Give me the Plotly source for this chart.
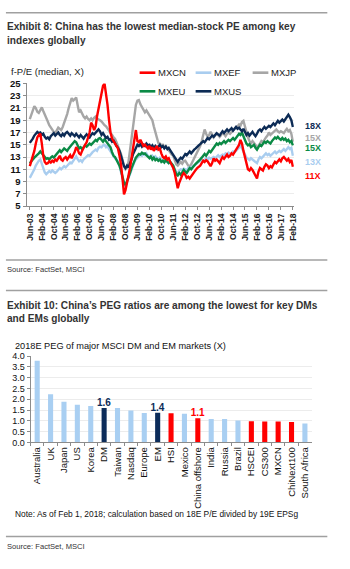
import plotly.graph_objects as go
import pandas as pd

W, H = 350, 569

# ---------------- Exhibit 8 data (monthly, from Jun-03) ----------------
start_month = "2003-06-01"
mxcn = [11.5, 12.2, 13.0, 14.0, 15.2, 16.2, 16.6,
        16.8, 15.2, 13.2, 12.2, 11.9, 12.0, 12.3, 12.1, 12.4, 12.2, 12.6, 12.4,
        12.8, 13.2, 12.6, 12.4, 12.8, 13.0, 12.6, 12.9, 13.3, 12.8, 13.2, 13.8,
        14.6, 14.2, 13.6, 13.4, 14.0, 14.6, 15.0, 15.4, 16.4, 17.0, 18.6, 18.2,
        17.4, 18.0, 19.6, 20.8, 22.0, 23.4, 24.6, 25.0, 23.5, 21.5, 19.0, 17.0,
        16.0, 15.6, 15.2, 14.8, 14.4, 13.2, 11.8, 9.5, 6.9, 7.6, 8.6, 10.0,
        11.2, 12.8, 14.2, 16.0, 17.4, 15.6, 15.4, 15.8, 15.2, 14.8, 15.0, 14.6,
        14.4, 14.8, 14.2, 14.6, 14.0, 14.4, 14.8, 14.2, 14.4, 13.6, 13.0, 12.8,
        13.1, 12.6, 12.8, 12.2, 11.8, 11.2, 10.4, 9.4, 7.9, 8.8, 9.6, 10.0,
        10.4, 10.1, 9.6, 9.8, 9.5, 9.9, 10.3, 10.7, 10.9, 11.2, 11.4, 11.6,
        12.0, 12.4, 12.2, 12.5, 12.3, 11.8, 11.5, 12.0, 12.8, 12.4, 12.6, 12.3,
        12.0, 12.6, 13.0, 12.7, 13.1, 13.4, 13.0, 13.2, 13.6, 13.4, 13.8, 14.2,
        14.4, 15.0, 15.8, 15.2, 14.0, 12.8, 11.6, 11.0, 10.8, 11.2, 10.9, 10.4,
        9.8, 9.5, 10.6, 11.2, 11.0, 10.8, 11.4, 11.8, 11.6, 11.2, 11.5, 11.3,
        11.8, 12.2, 12.0, 12.4, 12.6, 12.3, 12.8, 13.0, 12.6, 12.4, 12.7, 12.2,
        12.5, 11.4]
mxef = [9.6, 10.0, 10.5, 11.0, 11.6, 12.1, 12.4,
        12.6, 11.8, 11.0, 10.5, 10.2, 10.4, 10.7, 10.5, 10.8, 10.6, 10.4, 10.6,
        10.9, 11.2, 11.0, 11.3, 11.5, 11.3, 11.6, 11.8, 12.1, 12.0, 12.4, 12.8,
        13.1, 12.6, 12.3, 12.5, 12.2, 12.6, 12.8, 13.0, 13.3, 13.2, 13.6, 13.8,
        14.0, 14.2, 14.0, 14.5, 14.7, 14.6, 14.9, 15.0, 14.6, 14.8, 14.3, 13.9,
        13.5, 13.2, 12.8, 12.6, 12.3, 11.6, 10.6, 9.6, 8.4, 8.2, 8.9, 9.6,
        10.4, 11.0, 11.5, 12.2, 12.6, 12.9, 13.2, 13.4, 13.2, 13.5, 13.3, 13.6,
        13.2, 13.1, 12.9, 13.2, 12.8, 13.1, 12.8, 12.6, 12.9, 12.6, 12.3, 12.5,
        12.3, 12.1, 12.0, 12.2, 11.8, 11.6, 11.0, 10.5, 10.3, 10.8, 11.0, 10.9,
        11.1, 11.0, 10.8, 11.2, 11.3, 11.1, 11.5, 11.6, 11.9, 12.0, 12.2, 12.3,
        12.5, 12.3, 12.6, 12.8, 12.6, 12.9, 12.7, 12.8, 13.0, 12.8, 13.1, 13.3,
        13.0, 13.2, 13.4, 13.3, 13.6, 13.4, 13.7, 13.5, 13.6, 13.9, 13.8, 14.0,
        14.3, 14.6, 14.8, 14.4, 13.9, 13.3, 12.9, 12.7, 12.5, 12.8, 12.6, 12.4,
        12.2, 12.0, 12.6, 13.0, 12.8, 13.1, 13.4, 13.6, 13.3, 13.5, 13.2, 13.4,
        13.7, 13.9, 13.6, 13.8, 14.0, 13.8, 14.1, 14.3, 14.0, 14.4, 14.6, 14.3,
        14.5, 13.2]
mxjp = [19.2, 20.0, 20.8, 21.3, 21.0, 20.4, 20.2,
        20.8, 21.1, 20.5, 20.0, 19.5, 18.8, 18.2, 17.8, 17.4, 17.1, 16.9, 17.4,
        17.8, 17.6, 17.4, 17.9, 18.5, 19.2, 20.0, 21.0, 22.0, 22.6, 22.2, 22.5,
        22.7, 21.4, 20.3, 20.6, 20.0, 19.6, 19.3, 19.6, 19.2, 19.0, 19.3, 19.0,
        19.4, 19.6, 19.3, 19.2, 19.0, 18.8, 18.4, 18.2, 18.0, 17.6, 17.3, 17.0,
        16.6, 16.2, 16.0, 15.4, 14.8, 14.2, 13.5, 12.6, 11.5, 11.0, 11.3, 12.2,
        14.0, 15.8, 18.0, 20.0, 21.5, 22.2, 22.3, 21.6, 21.2, 20.8, 20.3, 20.6,
        20.2, 19.6, 19.4, 19.0, 18.0, 17.0, 15.8, 15.3, 15.2, 14.9, 15.0, 14.6,
        14.8, 14.4, 14.0, 13.6, 13.4, 13.2, 12.6, 11.8, 11.6, 12.0, 12.2, 11.9,
        12.3, 12.4, 12.0, 11.6, 11.5, 11.8, 12.3, 12.8, 13.4, 13.8, 14.3, 14.8,
        15.6, 16.4, 17.5, 16.8, 16.3, 16.6, 17.1, 16.7, 16.2, 16.5, 16.8, 16.6,
        16.3, 16.6, 17.0, 16.7, 16.4, 16.8, 17.0, 16.8, 17.1, 17.4, 17.7, 17.9,
        18.0, 18.3, 18.1, 18.7, 18.9, 17.8, 16.8, 16.2, 15.6, 15.2, 15.6, 15.3,
        15.0, 14.4, 14.8, 15.2, 15.6, 15.4, 15.9, 16.2, 16.5, 17.0, 16.6, 16.8,
        17.0, 17.3, 17.5, 17.2, 17.0, 17.2, 17.1, 16.9, 17.3, 17.6, 17.2, 17.4,
        16.8, 15.5]
mxeu = [12.0, 12.4, 12.6, 12.9, 13.1, 13.4, 13.6,
        13.9, 13.6, 13.3, 13.0, 12.7, 12.8, 12.6, 12.9, 13.1, 12.9, 13.2, 13.6,
        13.9, 14.1, 13.8, 14.2, 14.4, 14.2, 14.0, 14.4, 14.8, 15.0, 15.3, 15.6,
        15.4, 14.8, 14.4, 14.6, 14.3, 14.6, 14.9, 14.7, 15.0, 15.2, 15.0, 15.3,
        15.5, 15.8, 15.6, 16.0, 16.1, 15.7, 15.5, 15.9, 15.6, 15.2, 15.0, 14.6,
        13.8, 13.2, 13.0, 12.6, 12.2, 11.6, 10.8, 9.8, 8.8, 8.4, 9.0, 9.6,
        10.4, 11.2, 11.8, 12.5, 12.9, 13.2, 13.5, 13.4, 13.7, 13.5, 13.6, 13.3,
        13.0, 12.8, 13.1, 12.6, 12.9, 12.5, 12.7, 12.4, 12.6, 12.2, 12.4, 12.1,
        12.5, 12.3, 12.0, 12.2, 11.8, 11.6, 10.9, 10.2, 10.0, 10.4, 10.1, 10.6,
        10.9, 10.6, 10.4, 10.8, 11.2, 11.0, 11.4, 11.6, 11.9, 12.1, 12.4, 12.6,
        12.9, 13.2, 13.5, 13.2, 13.7, 14.0, 13.8, 14.2, 14.6, 14.9, 15.2, 15.0,
        15.3, 15.1, 15.4, 15.6, 15.3, 15.5, 15.8, 15.6, 15.9, 16.1, 15.8, 16.2,
        16.5, 16.8, 16.6, 17.0, 16.4, 15.6, 15.2, 14.9, 15.1, 14.6, 14.8, 15.0,
        14.5, 14.2, 14.6, 15.0, 14.8, 15.2, 15.5, 15.3, 15.6, 15.4, 15.2, 15.6,
        15.9, 16.2, 16.0, 16.3, 16.0, 15.8, 16.1, 15.8, 16.0, 15.6, 15.8, 15.4,
        15.6, 14.9]
mxus = [15.3, 15.6, 16.0, 16.5, 16.9, 17.1, 16.9,
        17.0, 16.6, 16.8, 16.3, 16.0, 16.2, 15.9, 16.4, 16.6, 16.9, 16.5, 16.8,
        17.0, 16.6, 16.4, 16.8, 16.5, 16.9, 17.1, 16.8, 16.5, 16.9, 16.6, 16.4,
        16.8, 16.5, 16.2, 16.6, 16.3, 16.0, 16.4, 16.7, 16.4, 16.2, 16.6, 16.9,
        16.7, 17.0, 17.3, 17.5, 17.2, 16.6, 16.9, 16.4, 16.1, 16.3, 15.8, 15.9,
        15.5, 15.7, 15.2, 14.8, 14.5, 14.0, 13.2, 12.2, 11.5, 11.2, 11.6, 11.3,
        11.9, 12.6, 13.4, 14.0, 14.6, 15.0, 14.8, 15.1, 14.7, 15.0, 14.8, 15.2,
        14.9, 15.0, 14.6, 14.9, 14.5, 14.8, 14.4, 14.7, 15.0, 14.6, 14.8, 14.4,
        14.7, 14.3, 14.5, 14.1, 13.7, 13.4, 12.9, 12.5, 12.2, 12.6, 12.9, 12.7,
        13.2, 13.5, 13.3, 13.7, 13.9, 13.6, 14.0, 14.2, 14.4, 14.7, 14.9, 15.1,
        15.3, 15.6, 15.4, 15.8, 16.1, 15.9, 16.2, 16.5, 16.3, 16.6, 16.9, 16.7,
        16.5, 16.9, 17.2, 16.9, 17.3, 17.5, 17.2, 17.4, 17.7, 17.3, 17.6, 17.9,
        17.6, 17.8, 17.5, 17.2, 17.6, 17.0, 16.6, 16.9, 16.5, 16.8, 17.1, 16.7,
        16.4, 16.8, 17.3, 17.5, 17.2, 17.6, 17.9, 17.6, 17.8, 18.1, 17.9, 18.3,
        18.5, 18.2, 18.6, 18.9, 18.6, 18.8, 19.1, 18.8, 19.2, 19.6, 19.9, 19.5,
        19.0, 17.9]

series_names = ["MXCN", "MXEF", "MXJP", "MXEU", "MXUS"]
series_colors = {"MXCN": "#ff0000", "MXEF": "#a9cdef", "MXJP": "#a6a6a6",
                 "MXEU": "#0a8a45", "MXUS": "#0c2b55"}
series_values = {"MXCN": mxcn, "MXEF": mxef, "MXJP": mxjp, "MXEU": mxeu, "MXUS": mxus}
draw_order = ["MXJP", "MXEF", "MXEU", "MXUS", "MXCN"]

date_tick_labels = ["Jun-03", "Feb-04", "Oct-04", "Jun-05", "Feb-06", "Oct-06", "Jun-07",
                    "Feb-08", "Oct-08", "Jun-09", "Feb-10", "Oct-10", "Jun-11", "Feb-12",
                    "Oct-12", "Jun-13", "Feb-14", "Oct-14", "Jun-15", "Feb-16", "Oct-16",
                    "Jun-17", "Feb-18"]
end_labels = [("18X", "MXUS", 122), ("15X", "MXJP", 134.5), ("15X", "MXEU", 144.5),
              ("13X", "MXEF", 159), ("11X", "MXCN", 173)]

# ---------------- Exhibit 10 data ----------------
peg_markets = ["Australia", "UK", "Japan", "US", "Korea", "DM", "Taiwan", "Nasdaq",
               "Europe", "EM", "HSI", "Mexico", "China offshore", "India", "Russia",
               "Brazil", "HSCEI", "CS300", "MXCN", "ChiNext100", "South Africa"]
peg_values = [3.78, 2.23, 1.88, 1.74, 1.69, 1.60, 1.59, 1.48, 1.36, 1.38, 1.35, 1.33,
              1.12, 1.09, 1.09, 1.01, 0.98, 0.97, 0.97, 0.95, 0.88]
navy_markets = ["DM", "EM"]
red_markets = ["HSI", "China offshore", "HSCEI", "CS300", "MXCN", "ChiNext100"]
labelled_markets = ["DM", "EM", "China offshore"]

LIGHT = "#a9cff2"
NAVY = "#0c2c5a"
RED = "#ff0000"
FONT = "Liberation Sans, Arial, sans-serif"


def px_x(x):
    return x / W


def px_y(y):
    return 1 - y / H


fig = go.Figure()

dates = pd.date_range(start_month, periods=len(mxcn), freq="MS")
for name in draw_order:
    fig.add_trace(go.Scatter(x=dates, y=series_values[name], mode="lines", name=name,
                             line=dict(color=series_colors[name], width=2.4),
                             xaxis="x", yaxis="y", showlegend=False))

bar_colors = [NAVY if m in navy_markets else RED if m in red_markets else LIGHT
              for m in peg_markets]
bar_text = [f"<b>{v:.1f}</b>" if m in labelled_markets else "" for m, v in zip(peg_markets, peg_values)]
text_colors = [NAVY if m in navy_markets else RED for m in peg_markets]
fig.add_trace(go.Bar(x=peg_markets, y=peg_values, marker=dict(color=bar_colors, line_width=0),
                     text=bar_text, textposition="outside", cliponaxis=False,
                     constraintext="none",
                     textfont=dict(family=FONT, size=10, color=text_colors),
                     xaxis="x2", yaxis="y2", showlegend=False))

tickvals = pd.to_datetime(date_tick_labels, format="%b-%y")
bold_dates = [f"<b>{t}</b>" for t in date_tick_labels]

fig.update_layout(
    width=W, height=H, autosize=False,
    margin=dict(l=0, r=0, t=0, b=0),
    paper_bgcolor="white", plot_bgcolor="white",
    font=dict(family=FONT, color="#222"),
    bargap=0.62,
    xaxis=dict(domain=[px_x(25), px_x(297)], type="date",
               range=["2003-03-27", "2018-02-22"],
               tickvals=tickvals, ticktext=bold_dates, tickangle=-90,
               tickfont=dict(size=8.5, color="#222", family=FONT),
               showgrid=False, showline=True, linecolor="#8c8c8c", linewidth=1,
               ticks="outside", ticklen=3, tickcolor="#8c8c8c", anchor="y"),
    yaxis=dict(domain=[px_y(204), px_y(79)], range=[5, 25], dtick=2, tick0=5,
               tickprefix="<b>", ticksuffix="</b>",
               tickfont=dict(size=9.5, color="#111", family=FONT),
               showgrid=True, gridcolor="#ececec", gridwidth=1,
               showline=True, linecolor="#8c8c8c", linewidth=1,
               ticks="outside", ticklen=3, tickcolor="#8c8c8c", zeroline=False,
               anchor="x"),
    xaxis2=dict(domain=[px_x(29), px_x(315)], type="category", tickangle=-90,
                tickfont=dict(size=9.5, color="#111", family=FONT),
                showgrid=False, showline=True, linecolor="#8c8c8c", linewidth=1,
                ticks="outside", ticklen=3, tickcolor="#8c8c8c", tickson="boundaries",
                anchor="y2"),
    yaxis2=dict(domain=[px_y(445), px_y(357)], range=[0, 4.0], dtick=0.5,
                tickformat=".1f",
                tickfont=dict(size=9, color="#111", family=FONT),
                showgrid=True, gridcolor="#ececec", gridwidth=1,
                showline=True, linecolor="#8c8c8c", linewidth=1,
                ticks="outside", ticklen=3, tickcolor="#8c8c8c", zeroline=False,
                anchor="x2"),
)

shapes = []
for y in (7, 259, 290, 541):
    shapes.append(dict(type="line", xref="paper", yref="paper",
                       x0=px_x(4), x1=px_x(331), y0=px_y(y), y1=px_y(y),
                       line=dict(color="#a0a0a0", width=1.5)))

# manual legend
legend_pos = {"MXCN": (140, 68), "MXEF": (197, 68), "MXJP": (255, 68),
              "MXEU": (140, 87), "MXUS": (197, 87)}
annotations = []
for name in series_names:
    lx, ly = legend_pos[name]
    shapes.append(dict(type="line", xref="paper", yref="paper",
                       x0=px_x(lx), x1=px_x(lx + 16), y0=px_y(ly), y1=px_y(ly),
                       line=dict(color=series_colors[name], width=2.6)))
    annotations.append(dict(text=name, x=px_x(lx + 16.5), y=px_y(ly), xref="paper", yref="paper",
                            xanchor="left", yanchor="middle", showarrow=False,
                            font=dict(size=9.5, color="#222", family=FONT)))

for txt, name, yy in end_labels:
    annotations.append(dict(text=f"<b>{txt}</b>", x=px_x(306), y=px_y(yy), xref="paper",
                            yref="paper", xanchor="left", yanchor="middle", showarrow=False,
                            font=dict(size=9, color=series_colors[name], family=FONT)))


def add_text(txt, x, y, size, bold=False, color="#222"):
    annotations.append(dict(text=f"<b>{txt}</b>" if bold else txt, x=px_x(x), y=px_y(y),
                            xref="paper", yref="paper", xanchor="left", yanchor="middle",
                            showarrow=False, font=dict(size=size, color=color, family=FONT)))


add_text("Exhibit 8: China has the lowest median-stock PE among key", 3, 21, 10.1, True, "#333")
add_text("indexes globally", 3, 35, 10.1, True, "#333")
add_text("f-P/E (median, X)", 7, 67, 9.5, False, "#222")
add_text("Source: FactSet, MSCI", 3, 269, 7.6, False, "#333")
add_text("Exhibit 10: China\u2019s PEG ratios are among the lowest for key DMs", 3, 305, 10.1, True, "#333")
add_text("and EMs globally", 3, 319, 10.1, True, "#333")
add_text("2018E PEG of major MSCI DM and EM markets (X)", 11, 346.5, 9.2, False, "#111")
add_text("Note: As of Feb 1, 2018; calculation based on 18E P/E divided by 19E EPSg", 11, 518, 8.4, False, "#111")
add_text("Source: FactSet, MSCI", 3, 551, 7.6, False, "#333")

fig.update_layout(shapes=shapes, annotations=annotations)
fig.write_html("out.html")
